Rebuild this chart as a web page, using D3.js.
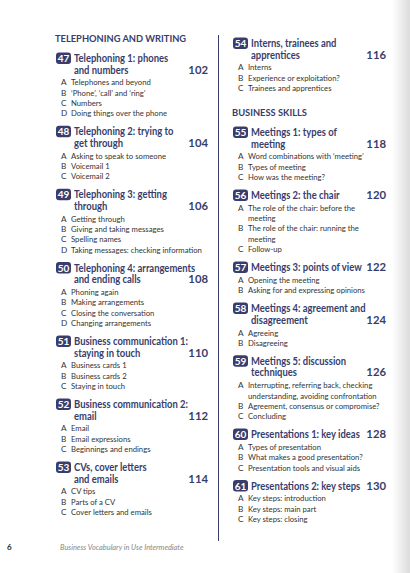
<!DOCTYPE html>
<html><head><meta charset="utf-8">
<script src="https://cdn.jsdelivr.net/npm/d3@7"></script>
<style>body{margin:0;background:#fff}text{font-family:Lato,"Open Sans",sans-serif}</style>
</head><body>
<script>
// contents data, one list per column
const leftUnits = [
  {head: "TELEPHONING AND WRITING"},
  {num: 47, title: ["Telephoning 1: phones", "and numbers"], page: 102,
   items: [["Telephones and beyond"], ["‘Phone’, ‘call’ and ‘ring’"], ["Numbers"], ["Doing things over the phone"]]},
  {num: 48, title: ["Telephoning 2: trying to", "get through"], page: 104,
   items: [["Asking to speak to someone"], ["Voicemail 1"], ["Voicemail 2"]]},
  {num: 49, title: ["Telephoning 3: getting", "through"], page: 106,
   items: [["Getting through"], ["Giving and taking messages"], ["Spelling names"], ["Taking messages: checking information"]]},
  {num: 50, title: ["Telephoning 4: arrangements", "and ending calls"], page: 108,
   items: [["Phoning again"], ["Making arrangements"], ["Closing the conversation"], ["Changing arrangements"]]},
  {num: 51, title: ["Business communication 1:", "staying in touch"], page: 110,
   items: [["Business cards 1"], ["Business cards 2"], ["Staying in touch"]]},
  {num: 52, title: ["Business communication 2:", "email"], page: 112,
   items: [["Email"], ["Email expressions"], ["Beginnings and endings"]]},
  {num: 53, title: ["CVs, cover letters", "and emails"], page: 114,
   items: [["CV tips"], ["Parts of a CV"], ["Cover letters and emails"]]}
];
const rightUnits = [
  {num: 54, title: ["Interns, trainees and", "apprentices"], page: 116,
   items: [["Interns"], ["Experience or exploitation?"], ["Trainees and apprentices"]]},
  {head: "BUSINESS SKILLS"},
  {num: 55, title: ["Meetings 1: types of", "meeting"], page: 118,
   items: [["Word combinations with ‘meeting’"], ["Types of meeting"], ["How was the meeting?"]]},
  {num: 56, title: ["Meetings 2: the chair"], page: 120,
   items: [["The role of the chair: before the", "meeting"], ["The role of the chair: running the", "meeting"], ["Follow-up"]]},
  {num: 57, title: ["Meetings 3: points of view"], page: 122,
   items: [["Opening the meeting"], ["Asking for and expressing opinions"]]},
  {num: 58, title: ["Meetings 4: agreement and", "disagreement"], page: 124,
   items: [["Agreeing"], ["Disagreeing"]]},
  {num: 59, title: ["Meetings 5: discussion", "techniques"], page: 126,
   items: [["Interrupting, referring back, checking", "understanding, avoiding confrontation"], ["Agreement, consensus or compromise?"], ["Concluding"]]},
  {num: 60, title: ["Presentations 1: key ideas"], page: 128,
   items: [["Types of presentation"], ["What makes a good presentation?"], ["Presentation tools and visual aids"]]},
  {num: 61, title: ["Presentations 2: key steps"], page: 130,
   items: [["Key steps: introduction"], ["Key steps: main part"], ["Key steps: closing"]]}
];
const letters = ["A", "B", "C", "D"];

const W = 410, H = 573, navy = "#383d6c";
const svg = d3.select("body").append("svg").attr("width", W).attr("height", H);

// narrow a text to mimic the condensed book face
function squeeze(sel, k) {
  const n = sel.node().getComputedTextLength();
  sel.attr("textLength", n * k).attr("lengthAdjust", "spacingAndGlyphs");
  return sel;
}

// right edge page shading
const grad = svg.append("defs").append("linearGradient").attr("id", "edge");
grad.append("stop").attr("offset", "0").attr("stop-color", "#fff");
grad.append("stop").attr("offset", "1").attr("stop-color", "#dcdcdc");
svg.append("rect").attr("x", 392).attr("y", 0).attr("width", 18).attr("height", H).attr("fill", "url(#edge)");

// column divider
svg.append("line").attr("x1", 218.5).attr("x2", 218.5).attr("y1", 35).attr("y2", 541)
  .attr("stroke", navy).attr("stroke-width", 1);

function column(units, x0, right, y0) {
  const g = svg.append("g");
  let y = y0;
  units.forEach((u, i) => {
    if (u.head) {
      if (i > 0) y += 6;
      squeeze(g.append("text").attr("x", x0).attr("y", y).text(u.head)
        .attr("font-size", 9.8).attr("font-weight", 700).attr("fill", navy), 0.95);
      y += 20;
      return;
    }
    const b = g.append("g").attr("transform", `translate(${x0 + 1},${y - 9.5})`);
    b.append("rect").attr("width", 15).attr("height", 11.5).attr("rx", 3).attr("fill", navy);
    b.append("text").attr("x", 7.5).attr("y", 9.5).attr("text-anchor", "middle").text(u.num)
      .attr("font-size", 10).attr("font-weight", 700).attr("fill", "#fff");
    u.title.forEach((t, j) => {
      squeeze(g.append("text").attr("x", x0 + 19).attr("y", y).text(t)
        .attr("font-size", 11.8).attr("font-weight", 700).attr("fill", navy), 0.8);
      if (j === u.title.length - 1)
        g.append("text").attr("x", right).attr("y", y).attr("text-anchor", "end").text(u.page)
          .attr("font-size", 11.3).attr("font-weight", 700).attr("fill", navy);
      if (j < u.title.length - 1) y += 11.6;
    });
    y += 11.8;
    u.items.forEach((lines, k) => {
      g.append("text").attr("x", x0 + 6).attr("y", y).text(letters[k])
        .attr("font-size", 8.2).attr("fill", "#333");
      lines.forEach(l => {
        squeeze(g.append("text").attr("x", x0 + 16).attr("y", y).text(l)
          .attr("font-size", 8.4).attr("fill", "#333"), 0.92);
        y += 10.3;
      });
    });
    y += 8.7;
  });
}
column(leftUnits, 55, 208, 42);
column(rightUnits, 232, 386, 47);

// footer
svg.append("text").attr("x", 7).attr("y", 550).text("6")
  .attr("font-size", 8).attr("font-weight", 700).attr("fill", "#222");
svg.append("text").attr("x", 60).attr("y", 550).text("Business Vocabulary in Use Intermediate")
  .attr("font-size", 7.4).attr("font-style", "italic").attr("fill", "#888");
</script>
</body></html>
